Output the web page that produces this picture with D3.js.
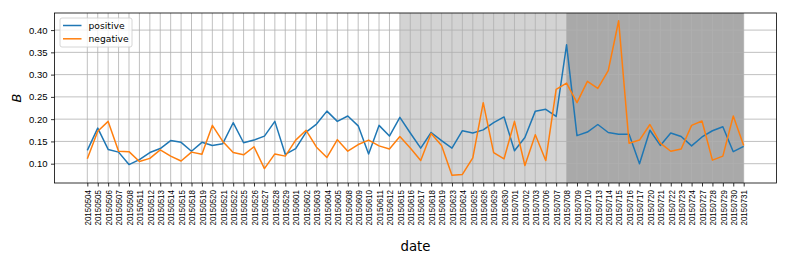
<!DOCTYPE html>
<html>
<head>
<meta charset="utf-8">
<script src="https://cdn.jsdelivr.net/npm/d3@7"></script>
<style>
  body { margin: 0; background: #fff; }
  svg { display: block; font-family: "DejaVu Sans", sans-serif; }
</style>
</head>
<body>
<svg id="chart" width="789" height="263"></svg>
<script>
// trading days, May - July 2015
const dates = [
  "20150504","20150505","20150506","20150507","20150508","20150511","20150512","20150513","20150514","20150515",
  "20150518","20150519","20150520","20150521","20150522","20150525","20150526","20150527","20150528","20150529",
  "20150601","20150602","20150603","20150604","20150605","20150608","20150609","20150610","20150611","20150612",
  "20150615","20150616","20150617","20150618","20150619","20150623","20150624","20150625","20150626","20150629",
  "20150630","20150701","20150702","20150703","20150706","20150707","20150708","20150709","20150710","20150713",
  "20150714","20150715","20150716","20150717","20150720","20150721","20150722","20150723","20150724","20150727",
  "20150728","20150729","20150730","20150731"
];

const positive = [
  0.130, 0.180, 0.132, 0.126, 0.098, 0.109, 0.125, 0.134, 0.152, 0.148,
  0.128, 0.148, 0.141, 0.145, 0.192, 0.147, 0.153, 0.162, 0.195, 0.121,
  0.134, 0.171, 0.189, 0.218, 0.195, 0.207, 0.185, 0.122, 0.186, 0.162,
  0.204, 0.169, 0.135, 0.170, 0.152, 0.135, 0.174, 0.169, 0.176, 0.192,
  0.205, 0.129, 0.159, 0.218, 0.222, 0.206, 0.367, 0.163, 0.171, 0.188,
  0.170, 0.166, 0.166, 0.100, 0.175, 0.141, 0.169, 0.161, 0.140, 0.160,
  0.174, 0.183, 0.127, 0.139
];

const negative = [
  0.111, 0.173, 0.195, 0.128, 0.127, 0.105, 0.112, 0.131, 0.117, 0.106,
  0.126, 0.121, 0.186, 0.150, 0.125, 0.120, 0.138, 0.089, 0.122, 0.117,
  0.153, 0.175, 0.137, 0.114, 0.154, 0.128, 0.143, 0.153, 0.140, 0.133,
  0.161, 0.135, 0.107, 0.168, 0.141, 0.074, 0.076, 0.113, 0.237, 0.125,
  0.111, 0.195, 0.096, 0.165, 0.107, 0.267, 0.281, 0.237, 0.285, 0.269,
  0.309, 0.421, 0.146, 0.153, 0.188, 0.146, 0.128, 0.133, 0.186, 0.196,
  0.108, 0.117, 0.207, 0.141
];

// shaded periods (start date, end date, colour)
const spans = [
  ["20150615", "20150708", "#d3d3d3"],
  ["20150708", "20150731", "#a9a9a9"]
];

const yTicks = [0.10, 0.15, 0.20, 0.25, 0.30, 0.35, 0.40];

const series = [
  { name: "positive", values: positive, color: "#1f77b4" },
  { name: "negative", values: negative, color: "#ff7f0e" }
];

const margin = { top: 13, right: 12.5, bottom: 80, left: 54.5 };
const width = 789, height = 263;
const plotW = width - margin.left - margin.right;
const plotH = height - margin.top - margin.bottom;

const svg = d3.select("#chart");
const g = svg.append("g").attr("transform", `translate(${margin.left},${margin.top})`);

const x = d3.scalePoint().domain(dates).range([0, plotW]).padding(3.15);

const all = positive.concat(negative);
const lo = d3.min(all), hi = d3.max(all), pad = (hi - lo) * 0.05;
const y = d3.scaleLinear().domain([lo - pad, hi + pad]).range([plotH, 0]);

// shaded spans
g.selectAll("rect.span").data(spans).enter().append("rect")
  .attr("class", "span")
  .attr("x", d => x(d[0]))
  .attr("width", d => x(d[1]) - x(d[0]))
  .attr("y", 0)
  .attr("height", plotH)
  .attr("fill", d => d[2]);

// grid
g.append("g").selectAll("line").data(dates).enter().append("line")
  .attr("x1", d => x(d)).attr("x2", d => x(d))
  .attr("y1", 0).attr("y2", plotH)
  .attr("stroke", "#b0b0b0").attr("stroke-width", 0.8);
g.append("g").selectAll("line").data(yTicks).enter().append("line")
  .attr("x1", 0).attr("x2", plotW)
  .attr("y1", d => y(d)).attr("y2", d => y(d))
  .attr("stroke", "#b0b0b0").attr("stroke-width", 0.8);

// lines
const line = d3.line().x((d, i) => x(dates[i])).y(d => y(d));
g.selectAll("path.series").data(series).enter().append("path")
  .attr("class", "series")
  .attr("d", d => line(d.values))
  .attr("fill", "none")
  .attr("stroke", d => d.color)
  .attr("stroke-width", 1.5)
  .attr("stroke-linejoin", "round");

// axes
const xAxis = g.append("g")
  .attr("transform", `translate(0,${plotH})`)
  .call(d3.axisBottom(x).tickSize(3.5).tickPadding(2).tickSizeOuter(0));
xAxis.select(".domain").remove();
xAxis.selectAll("text")
  .attr("transform", "rotate(-90)")
  .attr("text-anchor", "end")
  .attr("x", -7)
  .attr("y", 0)
  .attr("dy", "0.36em")
  .attr("font-size", 9)
  .attr("textLength", 35.5)
  .attr("lengthAdjust", "spacingAndGlyphs")
  .attr("fill", "#000");
xAxis.selectAll(".tick line").attr("stroke", "#000").attr("stroke-width", 0.8);

const yAxis = g.append("g")
  .call(d3.axisLeft(y).tickValues(yTicks).tickFormat(d3.format(".2f")).tickSize(3.5).tickPadding(3.5).tickSizeOuter(0));
yAxis.select(".domain").remove();
yAxis.selectAll("text").attr("font-size", 9.5).attr("fill", "#000");
yAxis.selectAll(".tick line").attr("stroke", "#000").attr("stroke-width", 0.8);

// frame
g.append("rect")
  .attr("width", plotW).attr("height", plotH)
  .attr("fill", "none").attr("stroke", "#000").attr("stroke-width", 0.8);

// axis labels
svg.append("text")
  .attr("x", margin.left + plotW / 2).attr("y", 251)
  .attr("text-anchor", "middle")
  .attr("font-size", 13.3)
  .text("date");

svg.append("text")
  .attr("transform", `translate(21,${margin.top + plotH / 2}) rotate(-90)`)
  .attr("text-anchor", "middle")
  .attr("font-size", 13)
  .attr("font-style", "italic")
  .text("B");

// legend
const legend = g.append("g").attr("transform", "translate(5.5,5)");
legend.append("rect")
  .attr("width", 72).attr("height", 29).attr("rx", 2)
  .attr("fill", "#fff").attr("fill-opacity", 0.8)
  .attr("stroke", "#cccccc").attr("stroke-width", 0.8);
const item = legend.selectAll("g.item").data(series).enter().append("g")
  .attr("class", "item")
  .attr("transform", (d, i) => `translate(0,${7.5 + i * 13.3})`);
item.append("line")
  .attr("x1", 3).attr("x2", 21.5)
  .attr("stroke", d => d.color).attr("stroke-width", 1.5);
item.append("text")
  .attr("x", 28.5).attr("dy", "0.35em")
  .attr("font-size", 9.2)
  .text(d => d.name);
</script>
</body>
</html>
